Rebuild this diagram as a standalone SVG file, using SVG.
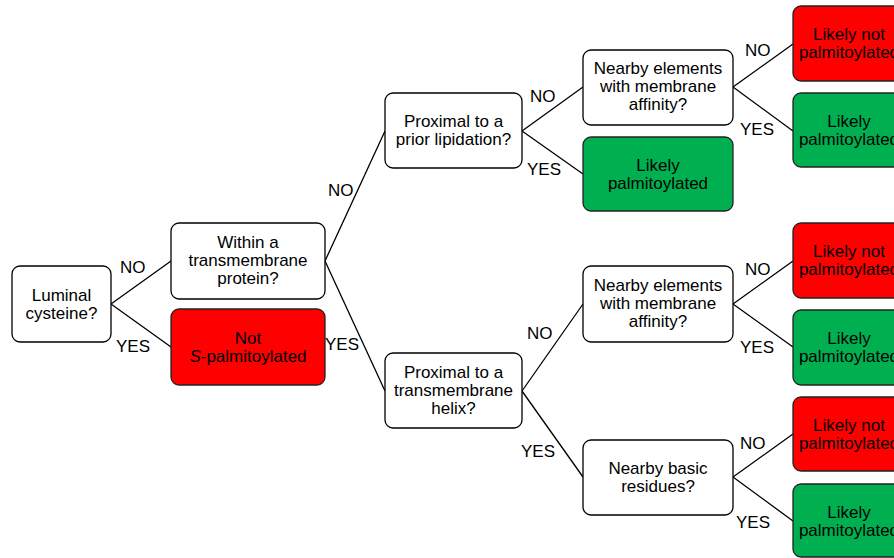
<svg xmlns="http://www.w3.org/2000/svg" width="894" height="558" viewBox="0 0 894 558">
<style>
.b{fill:#fff;stroke:#000;stroke-width:1.3}
.r{fill:#ff0000;stroke:#222;stroke-width:1.3}
.g{fill:#00b050;stroke:#222;stroke-width:1.3}
text{font-family:"Liberation Sans",Arial,sans-serif;font-size:17px;fill:#000}
.c{text-anchor:middle}
.ln{stroke:#000;stroke-width:1.3;fill:none}
</style>
<rect width="894" height="558" fill="#fff"/>
<g id="connectors">
<path class="ln" d="M111 304L171 261M111 304L171 347"/>
<path class="ln" d="M325 261L385 131M325 261L385 391"/>
<path class="ln" d="M522 131L583 87M522 131L583 174"/>
<path class="ln" d="M522 391L583 304M522 391L583 477"/>
<path class="ln" d="M733 87L793 44M733 87L793 131"/>
<path class="ln" d="M733 304L793 261M733 304L793 347"/>
<path class="ln" d="M733 477L793 434M733 477L793 521"/>
<text x="120" y="273">NO</text>
<text x="116" y="352">YES</text>
<text x="328" y="196">NO</text>
<text x="325" y="350">YES</text>
<text x="530" y="102">NO</text>
<text x="527" y="175">YES</text>
<text x="527" y="339">NO</text>
<text x="521" y="457">YES</text>
<text x="745" y="56">NO</text>
<text x="740" y="135">YES</text>
<text x="745" y="275">NO</text>
<text x="740" y="353">YES</text>
<text x="740" y="449">NO</text>
<text x="736" y="528">YES</text>
</g>
<g id="n1"><rect class="b" x="12" y="266" width="99" height="76" rx="8"/><text class="c" x="61.5" y="301">Luminal</text><text class="c" x="61.5" y="319">cysteine?</text></g>
<g id="n2"><rect class="b" x="171" y="223" width="154" height="76" rx="8"/><text class="c" x="248" y="248">Within a</text><text class="c" x="248" y="266">transmembrane</text><text class="c" x="248" y="284">protein?</text></g>
<g id="n3"><rect class="r" x="171" y="309" width="154" height="76" rx="8"/><text class="c" x="248" y="344">Not</text><text class="c" x="248" y="362"><tspan font-style="italic">S</tspan>-palmitoylated</text></g>
<g id="n4"><rect class="b" x="385" y="93" width="137" height="75" rx="8"/><text class="c" x="453.5" y="127">Proximal to a</text><text class="c" x="453.5" y="145">prior lipidation?</text></g>
<g id="n5"><rect class="b" x="385" y="353" width="137" height="75" rx="8"/><text class="c" x="453.5" y="378">Proximal to a</text><text class="c" x="453.5" y="396">transmembrane</text><text class="c" x="453.5" y="414">helix?</text></g>
<g id="n6"><rect class="b" x="583" y="50" width="150" height="75" rx="8"/><text class="c" x="658" y="74">Nearby elements</text><text class="c" x="658" y="92">with membrane</text><text class="c" x="658" y="110">affinity?</text></g>
<g id="n7"><rect class="g" x="583" y="137" width="150" height="74" rx="8"/><text class="c" x="658" y="171">Likely</text><text class="c" x="658" y="189">palmitoylated</text></g>
<g id="n8"><rect class="b" x="583" y="266" width="150" height="76" rx="8"/><text class="c" x="658" y="291">Nearby elements</text><text class="c" x="658" y="309">with membrane</text><text class="c" x="658" y="327">affinity?</text></g>
<g id="n9"><rect class="b" x="583" y="440" width="150" height="75" rx="8"/><text class="c" x="658" y="474">Nearby basic</text><text class="c" x="658" y="492">residues?</text></g>
<g id="r1"><rect class="r" x="793" y="6" width="150" height="75" rx="8"/><text class="c" x="849" y="40">Likely not</text><text class="c" x="849" y="58">palmitoylated</text></g>
<g id="r2"><rect class="g" x="793" y="93" width="150" height="74" rx="8"/><text class="c" x="849" y="127">Likely</text><text class="c" x="849" y="145">palmitoylated</text></g>
<g id="r3"><rect class="r" x="793" y="223" width="150" height="75" rx="8"/><text class="c" x="849" y="257">Likely not</text><text class="c" x="849" y="275">palmitoylated</text></g>
<g id="r4"><rect class="g" x="793" y="310" width="150" height="75" rx="8"/><text class="c" x="849" y="344">Likely</text><text class="c" x="849" y="362">palmitoylated</text></g>
<g id="r5"><rect class="r" x="793" y="397" width="150" height="74" rx="8"/><text class="c" x="849" y="431">Likely not</text><text class="c" x="849" y="449">palmitoylated</text></g>
<g id="r6"><rect class="g" x="793" y="484" width="150" height="73" rx="8"/><text class="c" x="849" y="518">Likely</text><text class="c" x="849" y="536">palmitoylated</text></g>
</svg>
